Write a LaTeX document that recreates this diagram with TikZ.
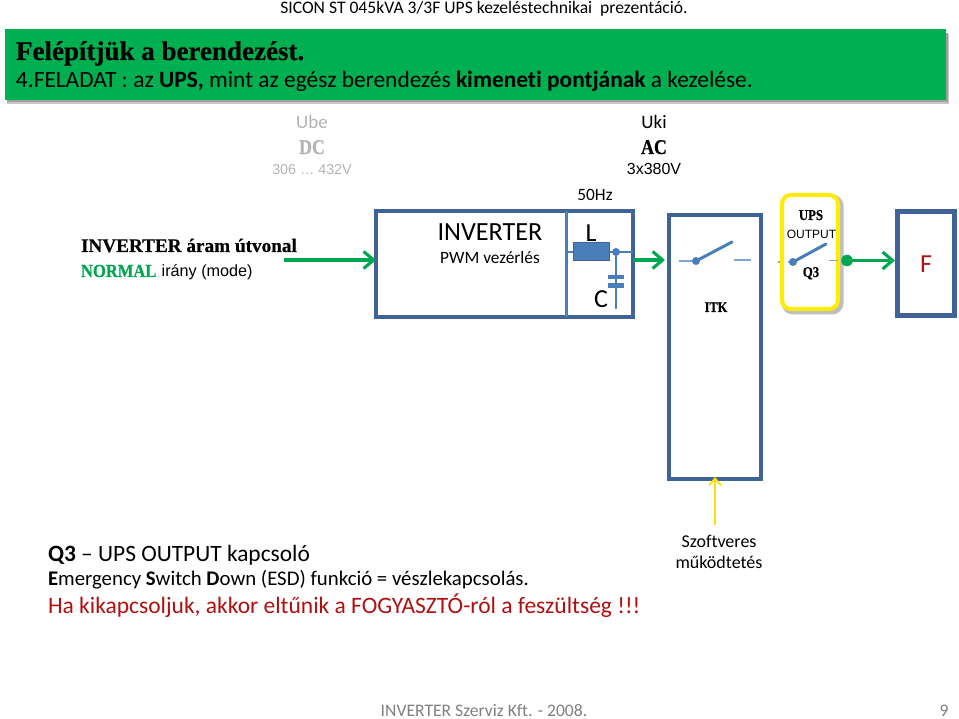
\documentclass[tikz,border=0pt]{standalone}
\usepackage{fontspec}
\setmainfont[Ligatures=NoCommon]{Carlito}
\newfontfamily\arl{Liberation Sans}
\newfontfamily\srf[BoldFeatures={FakeBold=0.5,FakeStretch=0.85}]{Liberation Serif}
\newfontfamily\srfw[BoldFeatures={FakeBold=0.5}]{Liberation Serif}
\newfontfamily\srfn[BoldFeatures={FakeBold=0.5,FakeStretch=0.9}]{Liberation Serif}
\usetikzlibrary{arrows.meta}
\definecolor{hdr}{HTML}{00AF50}
\definecolor{boxb}{HTML}{3F6396}
\definecolor{swb}{HTML}{4A7EBB}
\definecolor{grn}{HTML}{00A650}
\definecolor{gryt}{HTML}{B4B4B4}
\definecolor{fred}{HTML}{B01010}
\tikzset{
 txt/.style={inner sep=0pt,outer sep=0pt,anchor=base,align=center},
 ltxt/.style={inner sep=0pt,outer sep=0pt,anchor=base west},
 blockbox/.style={draw=boxb,line width=3.05pt,fill=white,inner sep=0pt},
 flow/.style={draw=grn,line width=3.1pt,-{Straight Barb[length=10pt,width=17pt,line width=3.1pt]}},
 wire/.style={draw=swb,line width=1.1pt},
 blade/.style={draw=swb,line width=3pt,line cap=round},
 jdot/.style={circle,fill=swb,inner sep=0pt,minimum size=8pt},
}
\begin{document}
\begin{tikzpicture}[x=1pt,y=-1pt]
\useasboundingbox (0,0) rectangle (959,719);
\fill[white] (0,0) rectangle (959,719);
% header
\node[txt,font=\fontsize{17.6}{18}\selectfont] (title) at (484,14) {SICON ST 045kVA 3/3F UPS kezeléstechnikai\ \ prezentáció.};
\fill[black!22] (7,34) rectangle (949,104);
\fill[black!38] (7,33) rectangle (948,102);
\node[inner sep=0pt,fill=hdr,minimum width=941pt,minimum height=71pt,anchor=north west] (hbar) at (5,29) {};
\node[ltxt,font=\srfw\bfseries\fontsize{27}{29}\selectfont] (h1) at (16,60) {Felépítjük a berendezést.};
\node[ltxt,font=\fontsize{23.4}{25}\selectfont] (h2) at (16,88) {4.FELADAT : az \textbf{UPS,} mint az egész berendezés \textbf{kimeneti pontjának} a kezelése.};
% top labels
\node[txt,text=gryt,font=\fontsize{19}{20}\selectfont] (ube) at (312,129) {Ube};
\node[txt,text=gryt,font=\srf\bfseries\fontsize{21}{22}\selectfont] (dc) at (312,154) {DC};
\node[txt,text=gryt,font=\arl\fontsize{14.3}{16}\selectfont] (v1) at (312,175) {306 … 432V};
\node[txt,font=\fontsize{19}{20}\selectfont] (uki) at (654,129) {Uki};
\node[txt,font=\srf\bfseries\fontsize{21}{22}\selectfont] (ac) at (654,154) {AC};
\node[txt,font=\arl\fontsize{16}{16}\selectfont] (v2) at (654,175) {3x380V};
\node[txt,font=\fontsize{17.3}{18}\selectfont] (hz) at (595,201) {50Hz};
% left label
\node[ltxt,font=\srfw\bfseries\fontsize{19.2}{22}\selectfont] (l1) at (81,252) {INVERTER áram útvonal};
\node[ltxt] (l2) at (81,277) {{\srfn\bfseries\fontsize{18.4}{20}\selectfont\color{grn}NORMAL}\hspace{3pt} {\arl\fontsize{16.2}{17}\selectfont irány (mode)}};
% inverter
\draw[blockbox] (376,211) rectangle (633,317);
\coordinate (invw) at (376,260);
\coordinate (ins) at (284,260);
\draw[flow] (ins) -- (invw);
\draw[draw=swb,line width=3pt] (566,211) -- (566,317);
\node[txt,font=\fontsize{26.2}{28}\selectfont] (inv) at (490,241) {INVERTER};
\node[txt,font=\fontsize{17.3}{18}\selectfont] (pwm) at (490,264) {PWM vezérlés};
\node[txt,font=\fontsize{26}{28}\selectfont] (L) at (591,242) {L};
\node[txt,font=\fontsize{26}{28}\selectfont] (C) at (601,308) {C};
\draw[wire] (566,252) -- (633,252);
\node[draw=boxb,line width=1pt,fill=swb,inner sep=0pt,minimum width=36pt,minimum height=18pt] (ind) at (591,252) {};
\node[jdot] (cj) at (616,252) {};
\draw[wire] (616,252) -- (616,309);
\fill[swb] (608,275) rectangle (624,279.5);
\fill[swb] (608,283.5) rectangle (624,288);
% ITK
\draw[blockbox] (669,215) rectangle (761,479);
\draw[flow] (633,260) -- (665,260);
\draw[wire,draw=swb!70] (679,261) -- (696,261);
\draw[wire,draw=swb!70] (734,260) -- (751,260);
\node[jdot] (itkp) at (696,261) {};
\draw[blade] (696,261) -- (732,242);
\node[txt,font=\srf\bfseries\fontsize{14.5}{15}\selectfont] (itk) at (716,312) {ITK};
% Q3
\draw[draw=black!25,line width=5pt,rounded corners=9pt] (784,197) rectangle (841,312);
\draw[draw=yellow!95!orange,line width=4pt,rounded corners=9pt,fill=white] (782,195) rectangle (838,309);
\node[txt,font=\srf\bfseries\fontsize{15}{16}\selectfont] (q1) at (811,220) {UPS};
\node[txt,font=\arl\fontsize{12}{14}\selectfont] (q2) at (811.5,239) {OUTPUT};
\node[txt,font=\srf\bfseries\fontsize{15}{16}\selectfont] (q3) at (811,277) {Q3};
\draw[wire,draw=swb!70,dash pattern=on 1.5pt off 8pt] (778,262) -- (793,262);
\draw[wire,draw=swb!70] (829,260.5) -- (838,260.5);
\node[jdot] (qp) at (793,262) {};
\draw[blade] (793,262) -- (826,244);
% F
\draw[blockbox,line width=5pt] (897,211.5) rectangle (954,316);
\node[txt,text=fred,font=\fontsize{26}{28}\selectfont] (f) at (926,273) {F};
\node[circle,fill=grn,inner sep=0pt,minimum size=11.5pt] (out) at (847,260.5) {};
\draw[flow] (out.center) -- (895,260.5);
% bottom
\coordinate (sw) at (715,525);
\draw[draw=yellow!80!orange,line width=2pt,-{Straight Barb[length=7pt,width=12pt,line width=1.8pt]}] (sw) -- (715,477);
\node[txt,font=\fontsize{18}{20}\selectfont] (sz1) at (719,547) {Szoftveres};
\node[txt,font=\fontsize{18}{20}\selectfont] (sz2) at (719,568) {működtetés};
\node[ltxt,font=\fontsize{23.4}{25}\selectfont] (b1) at (48,561) {\textbf{Q3} -- UPS OUTPUT kapcsoló};
\node[ltxt,font=\fontsize{20.8}{22}\selectfont] (b2) at (48,585) {\textbf{E}mergency \textbf{S}witch \textbf{D}own (ESD) funkció = vészlekapcsolás.};
\node[ltxt,text=fred,font=\fontsize{23.5}{25}\selectfont] (b3) at (48,613) {Ha kikapcsoljuk, akkor eltűnik a FOGYASZTÓ-ról a feszültség !!!};
\node[txt,font=\fontsize{17.6}{20}\selectfont,text=black!50] (ft) at (484,716.5) {INVERTER Szerviz Kft. - 2008.};
\node[txt,font=\fontsize{17.6}{20}\selectfont,text=black!50] (pg) at (944,716.5) {9};
\end{tikzpicture}
\end{document}
